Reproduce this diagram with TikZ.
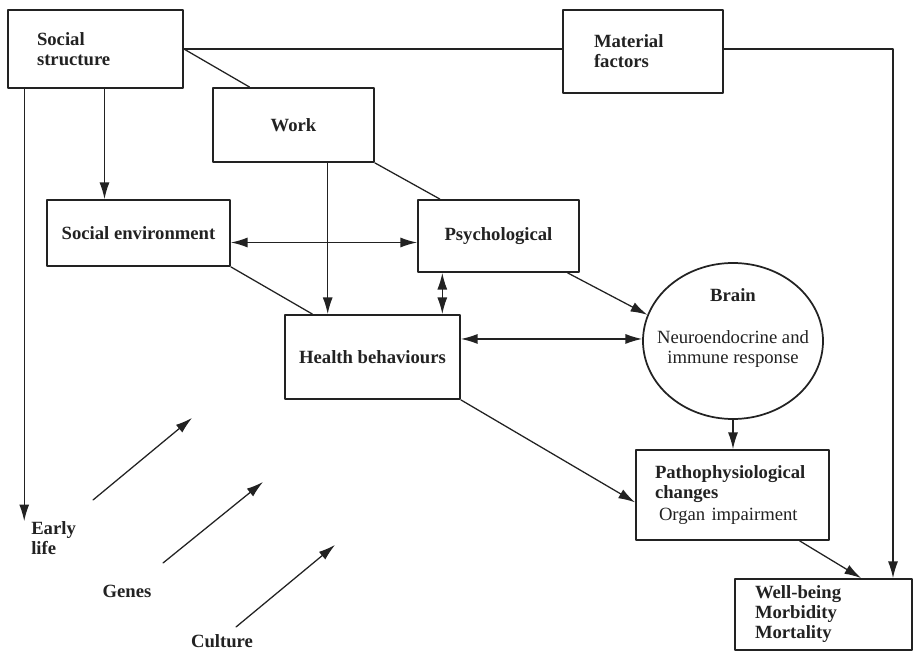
\documentclass[tikz,border=0pt]{standalone}
\usepackage{fontspec}
\setmainfont{Liberation Serif}
\usetikzlibrary{arrows.meta,calc,shapes.geometric}

\definecolor{ink}{HTML}{222222}

\begin{document}
\begin{tikzpicture}[x=0.75pt,y=-0.75pt,line cap=round,line join=round,
  >={Latex[length=12.5pt,width=7.5pt]},
  every node/.style={inner sep=0pt,text=ink,font=\fontsize{14}{15}\selectfont},
  bold/.style={font=\fontsize{14}{15}\selectfont\bfseries},
  box/.style={draw=ink,line width=1.4pt,bold},
  link/.style={draw=ink,line width=0.95pt}]
  \useasboundingbox (0,0) rectangle (915,652);
  \fill[white] (0,0) rectangle (915,652);
  % boxes
  \node[box,minimum width=131.25pt,minimum height=58.5pt,text width=87.75pt,inner xsep=21.75pt,align=left] (ss) at (95.5,49) {Social\\structure};
  \node[box,minimum width=120pt,minimum height=62.25pt,text width=73.5pt,inner xsep=23.25pt,align=left] (mat) at (643,51.5) {Material\\factors};
  \node[box,minimum width=120.75pt,minimum height=55.5pt] (work) at (293.5,125) {Work};
  \node[box,minimum width=137.25pt,minimum height=49.5pt] (se) at (138.5,233) {Social environment};
  \node[box,minimum width=120.75pt,minimum height=54pt] (psy) at (498.5,236) {Psychological};
  \node[box,minimum width=131.25pt,minimum height=63pt] (hb) at (372.5,357) {Health behaviours};
  \node[draw=ink,line width=1.3pt,ellipse,minimum width=135pt,minimum height=117pt] (brain) at (733,341) {};
  \node[bold] (brainT) at (733,295) {Brain};
  \node[align=center] (brainR) at (733,349.5) {Neuroendocrine and\\immune response};
  \node[box,minimum width=144.75pt,minimum height=67.5pt,text width=116.25pt,inner xsep=14.25pt,align=left] (patho) at (732.5,495) {Pathophysiological\\changes\\[2pt]\hspace*{3pt}{\mdseries Organ impairment}};
  \node[box,minimum width=132.75pt,minimum height=53.25pt,text width=102.75pt,inner xsep=15pt,align=left] (wb) at (823.5,614.5) {Well-being\\Morbidity\\Mortality};
  % labels
  \node[bold,align=left,anchor=west] (early) at (31,538) {Early\\life};
  \node[bold] (genes) at (127,591) {Genes};
  \node[bold] (culture) at (222,641) {Culture};
  % links
  \coordinate (ssL) at ($(ss.south west)!0.097!(ss.south east)$);
  \draw[link,->] (ssL) -- (ssL |- early.north);
  \coordinate (seTop) at ($(se.north west)!0.316!(se.north east)$);
  \draw[link,->] (seTop |- ss.south) -- (seTop);
  \draw[link] (ss.east) -- ($(work.north west)!0.23!(work.north east)$);
  \draw[link] (ss.east) -- (ss.east -| mat.west);
  \coordinate (corner) at (893,49);
  \draw[link,->] (mat.east |- corner) -- (corner) -- (corner |- wb.north);
  \draw[link] (work.south east) -- ($(psy.north west)!0.14!(psy.north east)$);
  \coordinate (workB) at ($(work.south west)!0.71!(work.south east)$);
  \draw[link,->] (workB) -- (workB |- hb.north);
  \coordinate (seR) at ($(se.south east)!0.36!(se.north east)$);
  \draw[link,<->] (seR) -- (seR -| psy.west);
  \draw[link] (se.south east) -- ($(hb.north west)!0.16!(hb.north east)$);
  \coordinate (psyB) at ($(psy.south west)!0.155!(psy.south east)$);
  \draw[link,<->] (psyB) -- (psyB |- hb.north);
  \draw[link,->] ($(psy.south west)!0.925!(psy.south east)$) -- (brain.163);
  \coordinate (hbR) at ($(hb.north east)!0.29!(hb.south east)$);
  \draw[link,<->] (hbR) -- (hbR -| brain.west);
  \draw[link,->] (brain.south) -- (brain.south |- patho.north);
  \draw[link,->] (hb.south east) -- ($(patho.north west)!0.58!(patho.south west)$);
  \draw[link,->] ($(patho.south west)!0.845!(patho.south east)$) -- ($(wb.north west)!0.71!(wb.north east)$);
  % influences
  \draw[link,->] (93,500) -- (192,418);
  \draw[link,->] (163,563) -- (263,482);
  \draw[link,->] (236,627) -- (335,545);
\end{tikzpicture}
\end{document}
